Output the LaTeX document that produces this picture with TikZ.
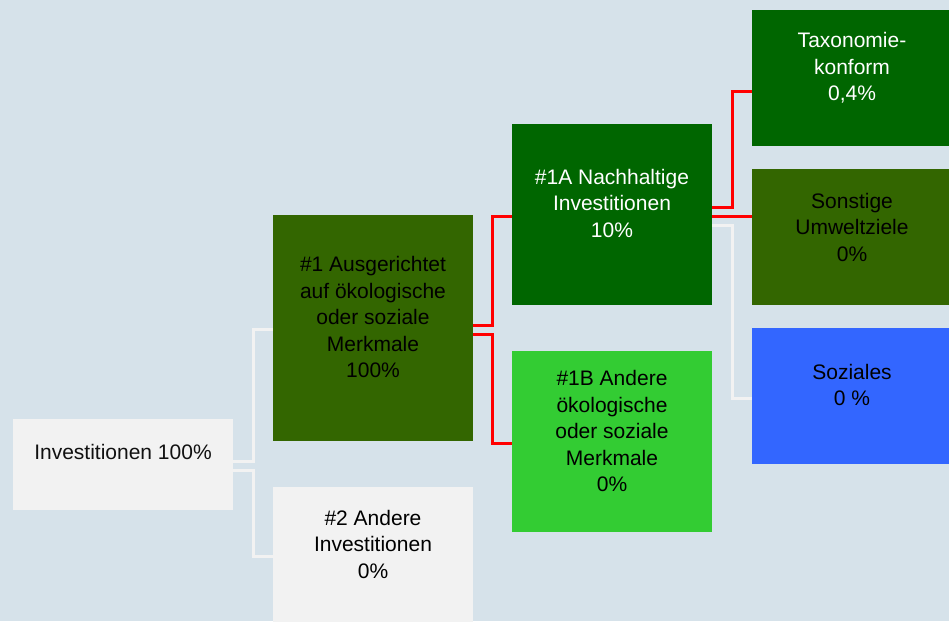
\documentclass[tikz,border=0pt]{standalone}
\usepackage{fontspec}
\setmainfont{Liberation Sans}
\definecolor{bg}{HTML}{D6E2EA}
\definecolor{lightbox}{HTML}{F2F2F2}
\definecolor{olive}{HTML}{336600}
\definecolor{dgreen}{HTML}{006600}
\definecolor{lgreen}{HTML}{33CC33}
\definecolor{sblue}{HTML}{3366FF}
\definecolor{txtdark}{HTML}{111111}
\begin{document}
\begin{tikzpicture}[x=1pt,y=-1pt,
  box/.style={draw=none,rectangle,inner sep=0pt,minimum width=#1},
  box/.default=200pt,
  txt/.style={inner sep=0pt,align=center,font=\fontsize{21}{26.5}\selectfont},
  wline/.style={draw=lightbox,line width=3pt},
  rline/.style={draw=red,line width=3pt}]
\useasboundingbox (0,0) rectangle (949,621);
\fill[bg] (0,0) rectangle (949,621);
\begin{scope}
\clip (0,0) rectangle (949,621);
% boxes
\node[box=220pt,minimum height=91pt,fill=lightbox] (inv) at (123,464.5) {};
\node[box,minimum height=226pt,fill=olive] (n1) at (373,328) {};
\node[box,minimum height=136pt,fill=lightbox] (n2) at (373,555) {};
\node[box,minimum height=181pt,fill=dgreen] (n1a) at (612,214.5) {};
\node[box,minimum height=181pt,fill=lgreen] (n1b) at (612,441.5) {};
\node[box,minimum height=136pt,fill=dgreen] (tax) at (852,78) {};
\node[box,minimum height=136pt,fill=olive] (son) at (852,237) {};
\node[box,minimum height=136pt,fill=sblue] (soz) at (852,396) {};
% texts
\node[txt,text=txtdark] (tinv) at ([yshift=12.5pt]inv.center) {Investitionen 100\%};
\node[txt,text=black] (tn1) at ([yshift=11pt]n1.center) {\#1 Ausgerichtet\\auf ökologische\\oder soziale\\Merkmale\\100\%};
\node[txt,text=black] (tn2) at ([yshift=11pt]n2.center) {\#2 Andere\\Investitionen\\0\%};
\node[txt,text=white] (tn1a) at ([yshift=11.5pt]n1a.center) {\#1A Nachhaltige\\Investitionen\\10\%};
\node[txt,text=black] (tn1b) at ([yshift=10.5pt]n1b.center) {\#1B Andere\\ökologische\\oder soziale\\Merkmale\\0\%};
\node[txt,text=white] (ttax) at ([yshift=10pt]tax.center) {Taxonomie-\\konform\\0,4\%};
\node[txt,text=black] (tson) at ([yshift=10pt]son.center) {Sonstige\\Umweltziele\\0\%};
\node[txt,text=black] (tsoz) at ([yshift=11pt]soz.center) {Soziales\\0 \%};
\end{scope}
% connectors
\draw[wline] ([yshift=2.8pt]inv.east) -- ++(20,0) |- ([yshift=-1pt]n1.west);
\draw[wline] ([yshift=-5.5pt]inv.east) -- ++(20,0) |- ([yshift=-1pt]n2.west);
\draw[rline] ([yshift=3pt]n1.east) -- ++(19.5,0) |- ([yshift=-1.5pt]n1a.west);
\draw[rline] ([yshift=-6pt]n1.east) -- ++(19.5,0) |- ([yshift=-1.5pt]n1b.west);
\draw[rline] ([yshift=7.5pt]n1a.east) -- ++(20,0) |- ([yshift=-13pt]tax.west);
\draw[wline] ([yshift=-10.5pt]n1a.east) -- ++(20,0) |- ([yshift=-2pt]soz.west);
\draw[rline] ([yshift=-1.5pt]n1a.east) -- ([yshift=-1.5pt]n1a.east -| son.west);
\end{tikzpicture}
\end{document}
